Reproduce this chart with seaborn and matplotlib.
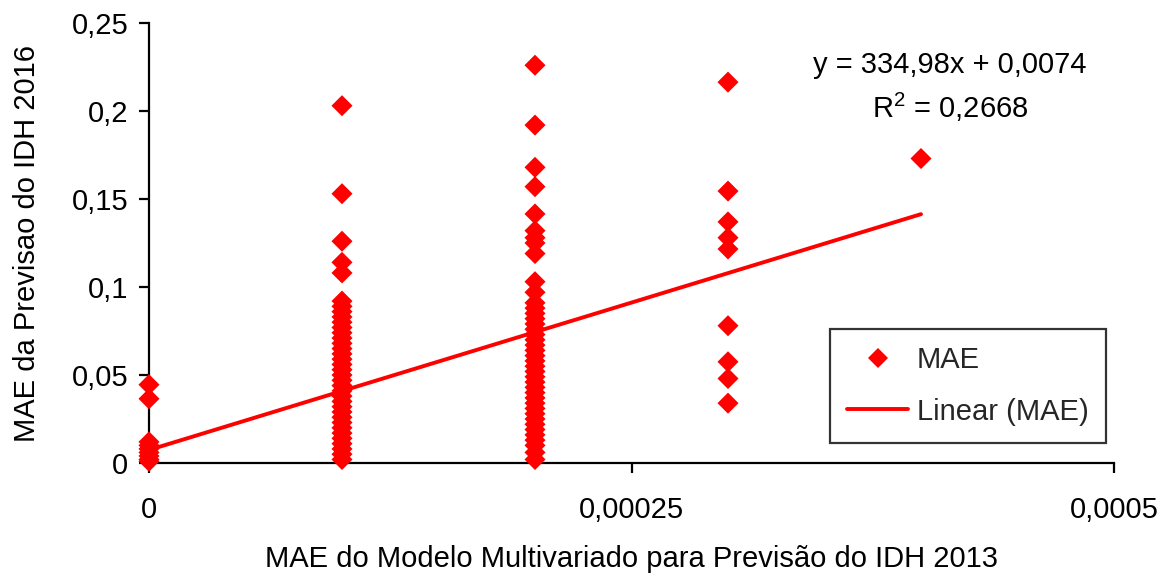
import numpy as np
import pandas as pd
import matplotlib
matplotlib.use("Agg")
import matplotlib.pyplot as plt
from matplotlib.ticker import FuncFormatter, FixedLocator
from matplotlib.lines import Line2D
import seaborn as sns

# ---- data ----
x_levels = [0.0, 0.0001, 0.0002, 0.0003, 0.0004]
mae_x0 = [0.0445, 0.0365, 0.012, 0.010, 0.008, 0.006, 0.004, 0.002, 0.001]
mae_x1 = [0.203, 0.153, 0.126, 0.114, 0.108, 0.092, 0.089, 0.086, 0.083, 0.080,
          0.077, 0.074, 0.071, 0.068, 0.065, 0.062, 0.059, 0.056, 0.053, 0.050,
          0.047, 0.044, 0.041, 0.038, 0.035, 0.032, 0.029, 0.026, 0.023, 0.020,
          0.017, 0.014, 0.011, 0.008, 0.005, 0.002]
mae_x2 = [0.226, 0.192, 0.168, 0.157, 0.1415, 0.132, 0.128, 0.125, 0.119, 0.103,
          0.097, 0.091, 0.088, 0.085, 0.082, 0.079, 0.076, 0.073, 0.070, 0.067,
          0.064, 0.061, 0.058, 0.055, 0.052, 0.049, 0.046, 0.043, 0.040, 0.037,
          0.034, 0.031, 0.028, 0.025, 0.022, 0.019, 0.016, 0.013, 0.010, 0.006,
          0.002]
mae_x3 = [0.2164, 0.1545, 0.137, 0.128, 0.1216, 0.078, 0.0575, 0.048, 0.034]
mae_x4 = [0.173]

slope = 334.98
intercept = 0.0074
eq_text = "y = 334,98x + 0,0074"
r2_text = "R$^2$ = 0,2668"

x_ticks = [0.0, 0.00025, 0.0005]
y_ticks = [0.0, 0.05, 0.1, 0.15, 0.2, 0.25]
x_label = "MAE do Modelo Multivariado para Previsão do IDH 2013"
y_label = "MAE da Previsao do IDH 2016"

series = [mae_x0, mae_x1, mae_x2, mae_x3, mae_x4]
df = pd.DataFrame({
    "x": np.concatenate([[xv] * len(s) for xv, s in zip(x_levels, series)]),
    "y": np.concatenate(series),
})

# ---- style ----
sns.set_theme(style="white")
plt.rcParams["font.family"] = ["Liberation Sans", "DejaVu Sans"]
plt.rcParams["mathtext.fontset"] = "custom"
plt.rcParams["mathtext.rm"] = "Liberation Sans"
plt.rcParams["mathtext.it"] = "Liberation Sans"
plt.rcParams["mathtext.default"] = "regular"

FS = 21

fig = plt.figure(figsize=(11.71, 5.76), dpi=100)
ax = fig.add_axes([149 / 1171, 1 - 463 / 576, (1114 - 149) / 1171, (463 - 23) / 576])

red = "#FF0000"
xl = np.array([min(x_levels), max(x_levels)])
sns.lineplot(x=xl, y=slope * xl + intercept, ax=ax, color=red, linewidth=2.8,
             zorder=3, legend=False)
sns.scatterplot(data=df, x="x", y="y", ax=ax, marker="D", color=red, s=115,
                edgecolor="none", linewidth=0, zorder=5, legend=False)
for coll in ax.collections:
    coll.set_clip_on(False)

ax.set_xlim(0, 0.0005)
ax.set_ylim(0, 0.25)
ax.xaxis.set_major_locator(FixedLocator(x_ticks))
ax.yaxis.set_major_locator(FixedLocator(y_ticks))

def comma_fmt(v, pos):
    if v == 0:
        return "0"
    s = ("%.6f" % v).rstrip("0").rstrip(".")
    return s.replace(".", ",")

ax.xaxis.set_major_formatter(FuncFormatter(comma_fmt))
ax.yaxis.set_major_formatter(FuncFormatter(comma_fmt))

for side in ["top", "right"]:
    ax.spines[side].set_visible(False)
for side in ["left", "bottom"]:
    ax.spines[side].set_color("black")
    ax.spines[side].set_linewidth(1.6)

ax.tick_params(axis="both", which="major", direction="out", length=7, width=1.6,
               color="black", labelsize=FS, labelcolor="black")
ax.tick_params(axis="x", pad=17)
ax.tick_params(axis="y", pad=8)
ax.tick_params(left=True, bottom=True)

ax.set_xlabel(x_label, fontsize=FS, color="black", labelpad=15)
ax.set_ylabel(y_label, fontsize=FS, color="black", labelpad=22)

ax.text(0.830, 0.9045, eq_text, transform=ax.transAxes, ha="center", va="center",
        fontsize=FS, color="black")
ax.text(0.830, 0.809, r2_text, transform=ax.transAxes, ha="center", va="center",
        fontsize=FS, color="black")

handles = [
    Line2D([], [], marker="D", color=red, linestyle="none", markersize=10.5,
           markeredgewidth=0),
    Line2D([], [], color=red, linewidth=2.8),
]
leg = ax.legend(handles, ["MAE", "Linear (MAE)"], loc="lower right",
                bbox_to_anchor=(0.992, 0.045), fontsize=FS, frameon=True,
                fancybox=False, edgecolor="black", borderpad=0.6,
                labelspacing=0.8, handlelength=2.1, handletextpad=0.3,
                borderaxespad=0)
leg.get_frame().set_linewidth(1.6)

fig.savefig("out.png", dpi=100, facecolor="white")
